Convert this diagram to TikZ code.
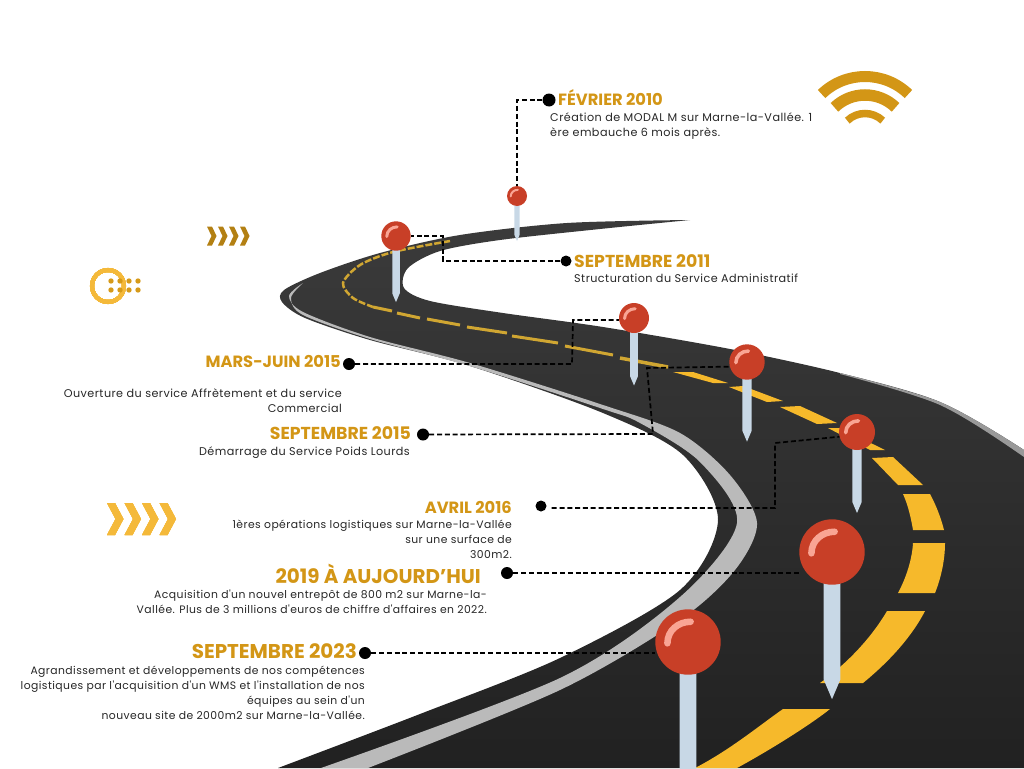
\documentclass[tikz,border=0pt]{standalone}
\usepackage{xcolor}
\usepackage{fontspec}
\setmainfont{Poppins}
\newfontfamily\bodyfont{Poppins}[LetterSpace=4]
\usepackage{tikz}
\usetikzlibrary{positioning}

\definecolor{gold}{HTML}{D39616}
\definecolor{amber}{HTML}{F4B93A}
\definecolor{lane}{HTML}{F6B92B}
\definecolor{thinlane}{HTML}{D0A632}
\definecolor{steel}{HTML}{C8D8E6}
\definecolor{pinred}{HTML}{C83F27}
\definecolor{shine}{HTML}{F9A594}

\tikzset{
  dot node/.style={circle,fill=black,inner sep=0pt,minimum size=12pt},
  pin node/.style={circle,fill=pinred,inner sep=0pt},
  date node/.style={font=\bfseries\fontsize{16.3}{18}\selectfont,text=gold,inner sep=0pt,text height=11.5pt,text depth=0pt},
  wide date/.style={font=\bfseries\fontsize{17.3}{18}\selectfont,text=gold,inner sep=0pt,text height=12pt,text depth=0pt},
  big date/.style={font=\bfseries\fontsize{19.9}{20}\selectfont,text=gold,inner sep=0pt,text height=14pt,text depth=0pt},
  body node/.style={font=\bodyfont\fontsize{11.2}{14.8}\selectfont,text=black!85,inner sep=0pt},
  small body/.style={font=\bodyfont\fontsize{10.8}{14.8}\selectfont,text=black!85,inner sep=0pt},
  leader/.style={draw=black,line width=1.7pt,dash pattern=on 5pt off 2.8pt},
  thin lane/.style={draw=thinlane,line width=3pt}
}

% name, x, y, radius
\newcommand{\mappin}[4]{
  \begin{scope}[shift={(#2,#3)},x=#4pt,y=-#4pt]
    \fill[steel] (-.255,0) -- (-.255,3.9) -- (0,4.5) -- (.255,3.9) -- (.255,0) -- cycle;
  \end{scope}
  \node[pin node,minimum size=#4*2pt] (#1) at (#2,#3) {};
  \begin{scope}[shift={(#2,#3)},x=#4pt,y=-#4pt]
    \draw[shine,line width=#4*.2pt,line cap=round] (-.63,.04) .. controls (-.63,-.35) and (-.3,-.62) .. (.08,-.62);
  \end{scope}
}
% x, y, half height, width, thickness, colour
\newcommand{\chevron}[6]{
  \fill[#6] (#1,#2-#3) -- (#1+#5,#2-#3) -- (#1+#4,#2) -- (#1+#5,#2+#3) -- (#1,#2+#3) -- (#1+#4-#5,#2) -- cycle;
}

\begin{document}
\begin{tikzpicture}[x=1pt,y=-1pt]
  \useasboundingbox (0,0) rectangle (1024,768);
  \clip (0,0) rectangle (1024,768);

  % road
  \shade[top color=black!77,bottom color=black!87]
    plot[smooth] coordinates {(690,220) (567,223) (460,235) (380,253) (320,273) (284,290) (282,302)
      (305,318) (370,340) (470,366) (603,413) (683,455) (718,520) (680,590) (560,658) (420,714) (278,768)}
    -- (1060,768) -- (1060,480)
    -- plot[smooth] coordinates {(1060,480) (1024,450) (940,402) (840,373) (730,349) (603,327) (503,313)
      (430,301) (404,288) (408,268) (440,251) (500,240) (600,229) (690,220)} -- cycle;

  % grey edge lines
  \fill[black!27]
    plot[smooth] coordinates {(303,283) (289,296) (303,312) (370,337) (470,363) (603,405)
      (680,433) (730,475) (757,523) (735,570) (680,620) (560,690) (368,768)}
    -- (321,768)
    -- plot[smooth] coordinates {(321,768) (560,678) (680,597) (737,523) (700,462) (640,423) (603,409)
      (470,366) (370,339) (303,315) (291,298) (303,283)} -- cycle;
  \fill[black!40] plot[smooth] coordinates {(840,373) (940,402) (1024,450) (1060,480)} -- (1060,488)
    -- plot[smooth] coordinates {(1060,488) (1024,457) (940,405) (840,374)} -- cycle;

  % centre line
  \draw[thin lane,line width=2.5pt,dash pattern=on 7pt off 2pt] plot[smooth] coordinates {(450,241) (393,252) (360,265) (343,283) (353,298) (373,307)};
  \draw[thin lane] (373,307) -- (392,311);
  \draw[thin lane] (397,313) -- (420,318);
  \draw[thin lane] (427,319) -- (460,325);
  \draw[thin lane] (467,327) -- (507,333);
  \draw[thin lane] (512,336) -- (558,343);
  \draw[thin lane] (565,346) -- (613,355);
  \draw[thin lane,line width=3.5pt] (620,358) -- (668,367);
  \fill[lane] (673,372) -- (693,372) -- (728,383) -- (713,383) -- cycle;
  \fill[lane] (729,387) -- (743,386) -- (783,401) -- (767,402) -- cycle;
  \fill[lane] (780,407) -- (800,406) -- (837,423) -- (817,424) -- cycle;
  \fill[lane] (828,428) -- (840,428) -- (885,450) -- (870,450) -- cycle;
  \fill[lane] (872,458) -- (893,457) -- (923,485) -- (898,485) -- cycle;
  \fill[lane] (903,494) -- (930,494) .. controls (936,505) and (941,518) .. (944,530) -- (913,530) .. controls (911,518) and (908,505) .. cycle;
  \fill[lane] (913,543) -- (945,543) .. controls (945,560) and (941,578) .. (935,593) -- (898,593) .. controls (906,578) and (912,560) .. cycle;
  \fill[lane] (887,611) -- (925,611) .. controls (910,640) and (885,665) .. (863,683) -- (820,683) .. controls (845,665) and (870,640) .. cycle;
  \fill[lane] (783,709) -- (830,709) .. controls (810,725) and (770,750) .. (737,768) -- (695,768) .. controls (730,750) and (760,725) .. cycle;

  % icons
  \draw[gold,line width=11pt] (865,139) ++(-46:62.5) arc (-46:-134:62.5);
  \draw[gold,line width=11.5pt] (865,139) ++(-46:44) arc (-46:-134:44);
  \draw[gold,line width=7.5pt] (865,139) ++(-46:25.5) arc (-46:-134:25.5);
  \foreach \x in {207,218,229,240}
    \chevron{\x}{236}{9.5}{9.5}{5}{gold!85!black}
  \foreach \x in {107,124.5,142,159.5}
    \chevron{\x}{519}{16}{16.5}{8}{amber}
  \draw[amber,line width=4pt] (108,286) circle (16);
  \foreach \x in {111,120,129,138}
    \foreach \y in {281,290}
      \fill[gold!90!amber] (\x,\y) circle (2.7);

  % pins
  \mappin{pina}{517}{196}{10}
  \mappin{pinb}{396}{236}{14.7}
  \mappin{pinc}{634}{318}{15}
  \mappin{pind}{747}{362}{17.7}
  \mappin{pine}{857}{432}{18}
  \mappin{pinf}{832}{552}{32.7}
  \mappin{ping}{688}{642}{32.7}

  % dots
  \node[dot node,minimum size=13pt] (dota) at (549,100) {};
  \node[dot node,minimum size=11pt] (dotb) at (566,261) {};
  \node[dot node] (dotc) at (349,364) {};
  \node[dot node] (dotd) at (423,434.5) {};
  \node[dot node,minimum size=11pt] (dote) at (541,506) {};
  \node[dot node] (dotf) at (507,573) {};
  \node[dot node] (dotg) at (365,653) {};

  % leaders
  \draw[leader] (dota) -| (pina);
  \draw[leader] (dotb) -- (443,261) |- (pinb);
  \draw[leader] (dotc) -- (572,364) -- (573,320) -- (pinc.west |- 0,320);
  \draw[leader] (dotd) -- (653,434) -- (647,368) -- (pind.195);
  \draw[leader] (dote.east) ++(5,2) -- (775,508) -- (775,443) -- (pine.195);
  \draw[leader] (dotf) -- (dotf -| pinf.west);
  \draw[leader] (dotg) -- (dotg -| ping.west);

  % texts
  \node[date node,anchor=west] (datea) at (558,100) {FÉVRIER 2010};
  \node[body node,anchor=north west,align=left] (texta) at (550,113) {Création de MODAL M sur Marne-la-Vallée. 1\\ère embauche 6 mois après.};
  \node[wide date,anchor=west] (dateb) at (574,261) {SEPTEMBRE 2011};
  \node[body node,anchor=north west] (textb) at (574,274) {Structuration du Service Administratif};
  \node[date node,anchor=east] (datec) at (341,362) {MARS-JUIN 2015};
  \node[body node,anchor=north east,align=right] (textc) at (342,389) {Ouverture du service Affrètement et du service\hspace{10pt}\\Commercial};
  \node[wide date,anchor=east] (dated) at (411,433) {SEPTEMBRE 2015};
  \node[body node,anchor=north east] (textd) at (410,447) {Démarrage du Service Poids Lourds};
  \node[date node,anchor=east] (datee) at (512,508) {AVRIL 2016};
  \node[small body,anchor=north east,align=right] (texte) at (512,520) {1ères opérations logistiques sur Marne-la-Vallée\\sur une surface de\\300m2.};
  \node[big date,anchor=east] (datef) at (481,576) {2019 À AUJOURD'HUI};
  \node[small body,anchor=north east,align=right] (textf) at (487,590) {Acquisition d'un nouvel entrepôt de 800 m2 sur Marne-la-\\Vallée. Plus de 3 millions d'euros de chiffre d'affaires en 2022.};
  \node[big date,anchor=east] (dateg) at (357,651) {SEPTEMBRE 2023};
  \node[small body,anchor=north east,align=right] (textg) at (365,666) {Agrandissement et développements de nos compétences\\logistiques par l'acquisition d'un WMS et l'installation de nos\\équipes au sein d'un\\nouveau site de 2000m2 sur Marne-la-Vallée.};
\end{tikzpicture}
\end{document}
